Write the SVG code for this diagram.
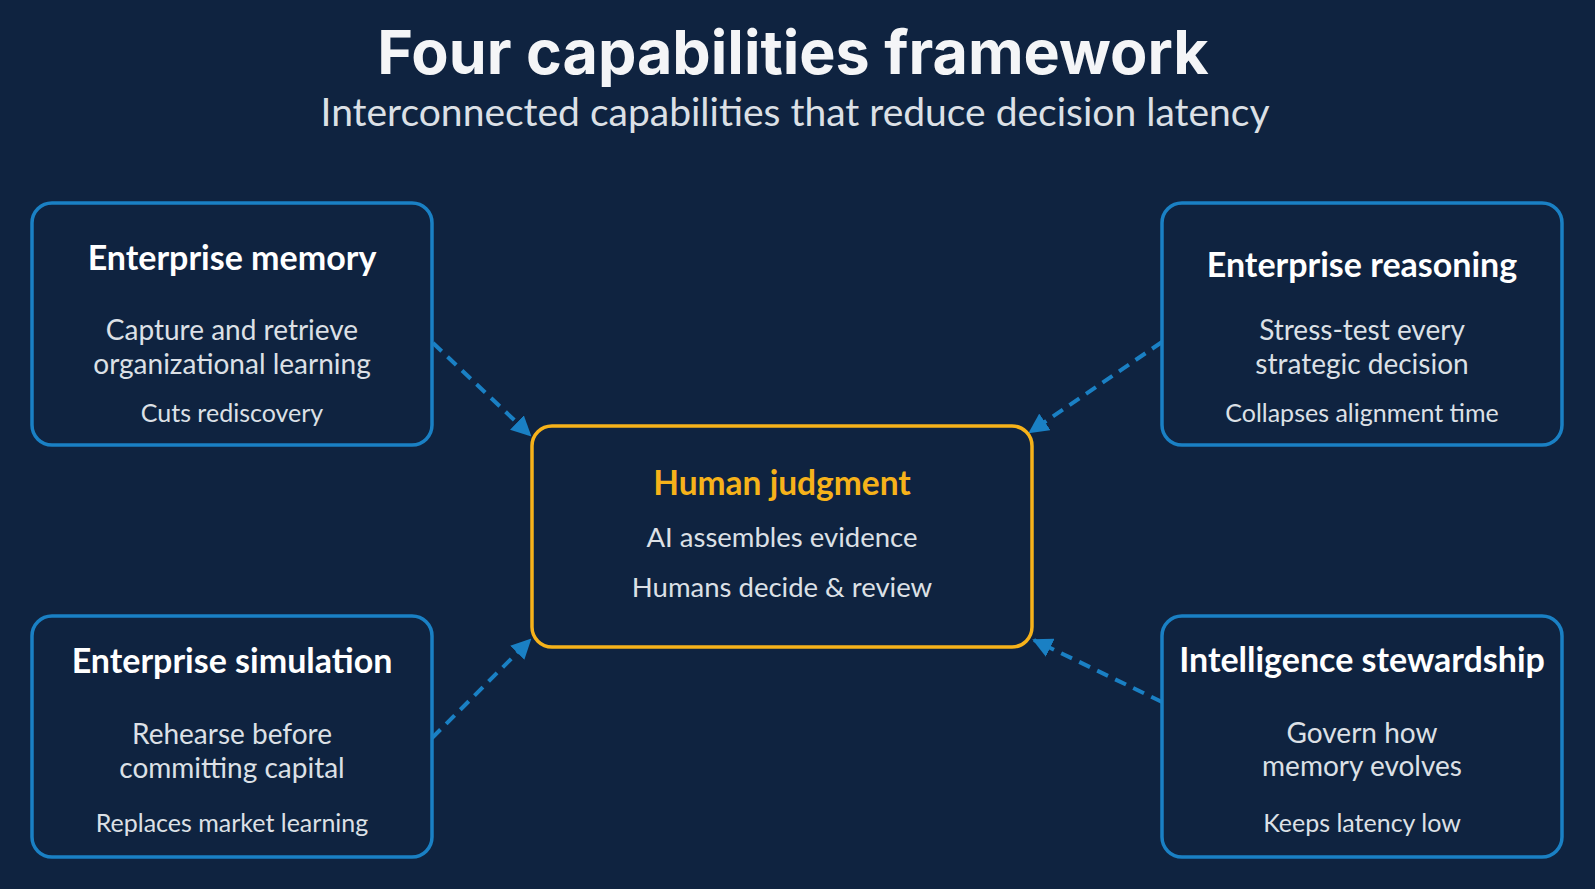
<svg xmlns="http://www.w3.org/2000/svg" width="1595" height="889" viewBox="0 0 1595 889">
  <defs>
    <style>
      .title { font-family: Inter, "Open Sans", sans-serif; font-weight: 700; font-size: 61px; fill: #F4F5F7; text-anchor: middle; }
      .subtitle { font-family: Lato, "Noto Sans", sans-serif; font-weight: 400; font-size: 39px; fill: #DCE0E6; text-anchor: middle; }
      .box { fill: #0F2340; stroke: #1A80C4; stroke-width: 3.5; }
      .center { fill: #0F2340; stroke: #F6B21A; stroke-width: 3.5; }
      .head { font-family: Lato, "Noto Sans", sans-serif; font-weight: 700; font-size: 34px; fill: #FFFFFF; text-anchor: middle; }
      .headY { font-family: Lato, "Noto Sans", sans-serif; font-weight: 700; font-size: 33.5px; fill: #F6B21A; text-anchor: middle; }
      .body { font-family: Lato, "Noto Sans", sans-serif; font-weight: 400; font-size: 28px; fill: #DCE0E6; text-anchor: middle; }
      .note { font-family: Lato, "Noto Sans", sans-serif; font-weight: 400; font-size: 25px; fill: #DCE0E6; text-anchor: middle; }
      .cbody { font-family: Lato, "Noto Sans", sans-serif; font-weight: 400; font-size: 27.5px; fill: #DCE0E6; text-anchor: middle; }
      .conn { fill: none; stroke: #1A80C4; stroke-width: 4; stroke-dasharray: 12 8; }
    </style>
    <marker id="arrow" viewBox="0 0 10 10" refX="9" refY="5" markerWidth="5" markerHeight="5" markerUnits="strokeWidth" orient="auto">
      <path d="M0,0 L10,5 L0,10 Z" fill="#1A80C4"/>
    </marker>
  </defs>
  <rect x="0" y="0" width="1595" height="889" fill="#0F2340"/>

  <g id="header">
    <text class="title" x="793" y="74">Four capabilities framework</text>
    <text class="subtitle" x="795" y="126">Interconnected capabilities that reduce decision latency</text>
  </g>

  <g id="connectors">
    <line class="conn" x1="433" y1="343" x2="530" y2="435" marker-end="url(#arrow)"/>
    <line class="conn" x1="1162" y1="342" x2="1030" y2="432" marker-end="url(#arrow)"/>
    <line class="conn" x1="432" y1="738" x2="530" y2="640" marker-end="url(#arrow)"/>
    <line class="conn" x1="1162" y1="702" x2="1034" y2="640" marker-end="url(#arrow)"/>
  </g>

  <g id="enterprise-memory">
    <rect class="box" x="32" y="203" width="400" height="242" rx="20"/>
    <text class="head" x="232" y="270">Enterprise memory</text>
    <text class="body" x="232" y="340">Capture and retrieve</text>
    <text class="body" x="232" y="374">organizational learning</text>
    <text class="note" x="232" y="422">Cuts rediscovery</text>
  </g>

  <g id="enterprise-reasoning">
    <rect class="box" x="1162" y="203" width="400" height="242" rx="20"/>
    <text class="head" x="1362" y="277">Enterprise reasoning</text>
    <text class="body" x="1362" y="340">Stress-test every</text>
    <text class="body" x="1362" y="374">strategic decision</text>
    <text class="note" x="1362" y="422">Collapses alignment time</text>
  </g>

  <g id="human-judgment">
    <rect class="center" x="532" y="426" width="500" height="221" rx="20"/>
    <text class="headY" x="782" y="495">Human judgment</text>
    <text class="cbody" x="782" y="547">AI assembles evidence</text>
    <text class="cbody" x="782" y="597">Humans decide &amp; review</text>
  </g>

  <g id="enterprise-simulation">
    <rect class="box" x="32" y="616" width="400" height="241" rx="20"/>
    <text class="head" x="232" y="673">Enterprise simulation</text>
    <text class="body" x="232" y="744">Rehearse before</text>
    <text class="body" x="232" y="778">committing capital</text>
    <text class="note" x="232" y="832">Replaces market learning</text>
  </g>

  <g id="intelligence-stewardship">
    <rect class="box" x="1162" y="616" width="400" height="241" rx="20"/>
    <text class="head" x="1362" y="672">Intelligence stewardship</text>
    <text class="body" x="1362" y="743">Govern how</text>
    <text class="body" x="1362" y="776">memory evolves</text>
    <text class="note" x="1362" y="832">Keeps latency low</text>
  </g>
</svg>
